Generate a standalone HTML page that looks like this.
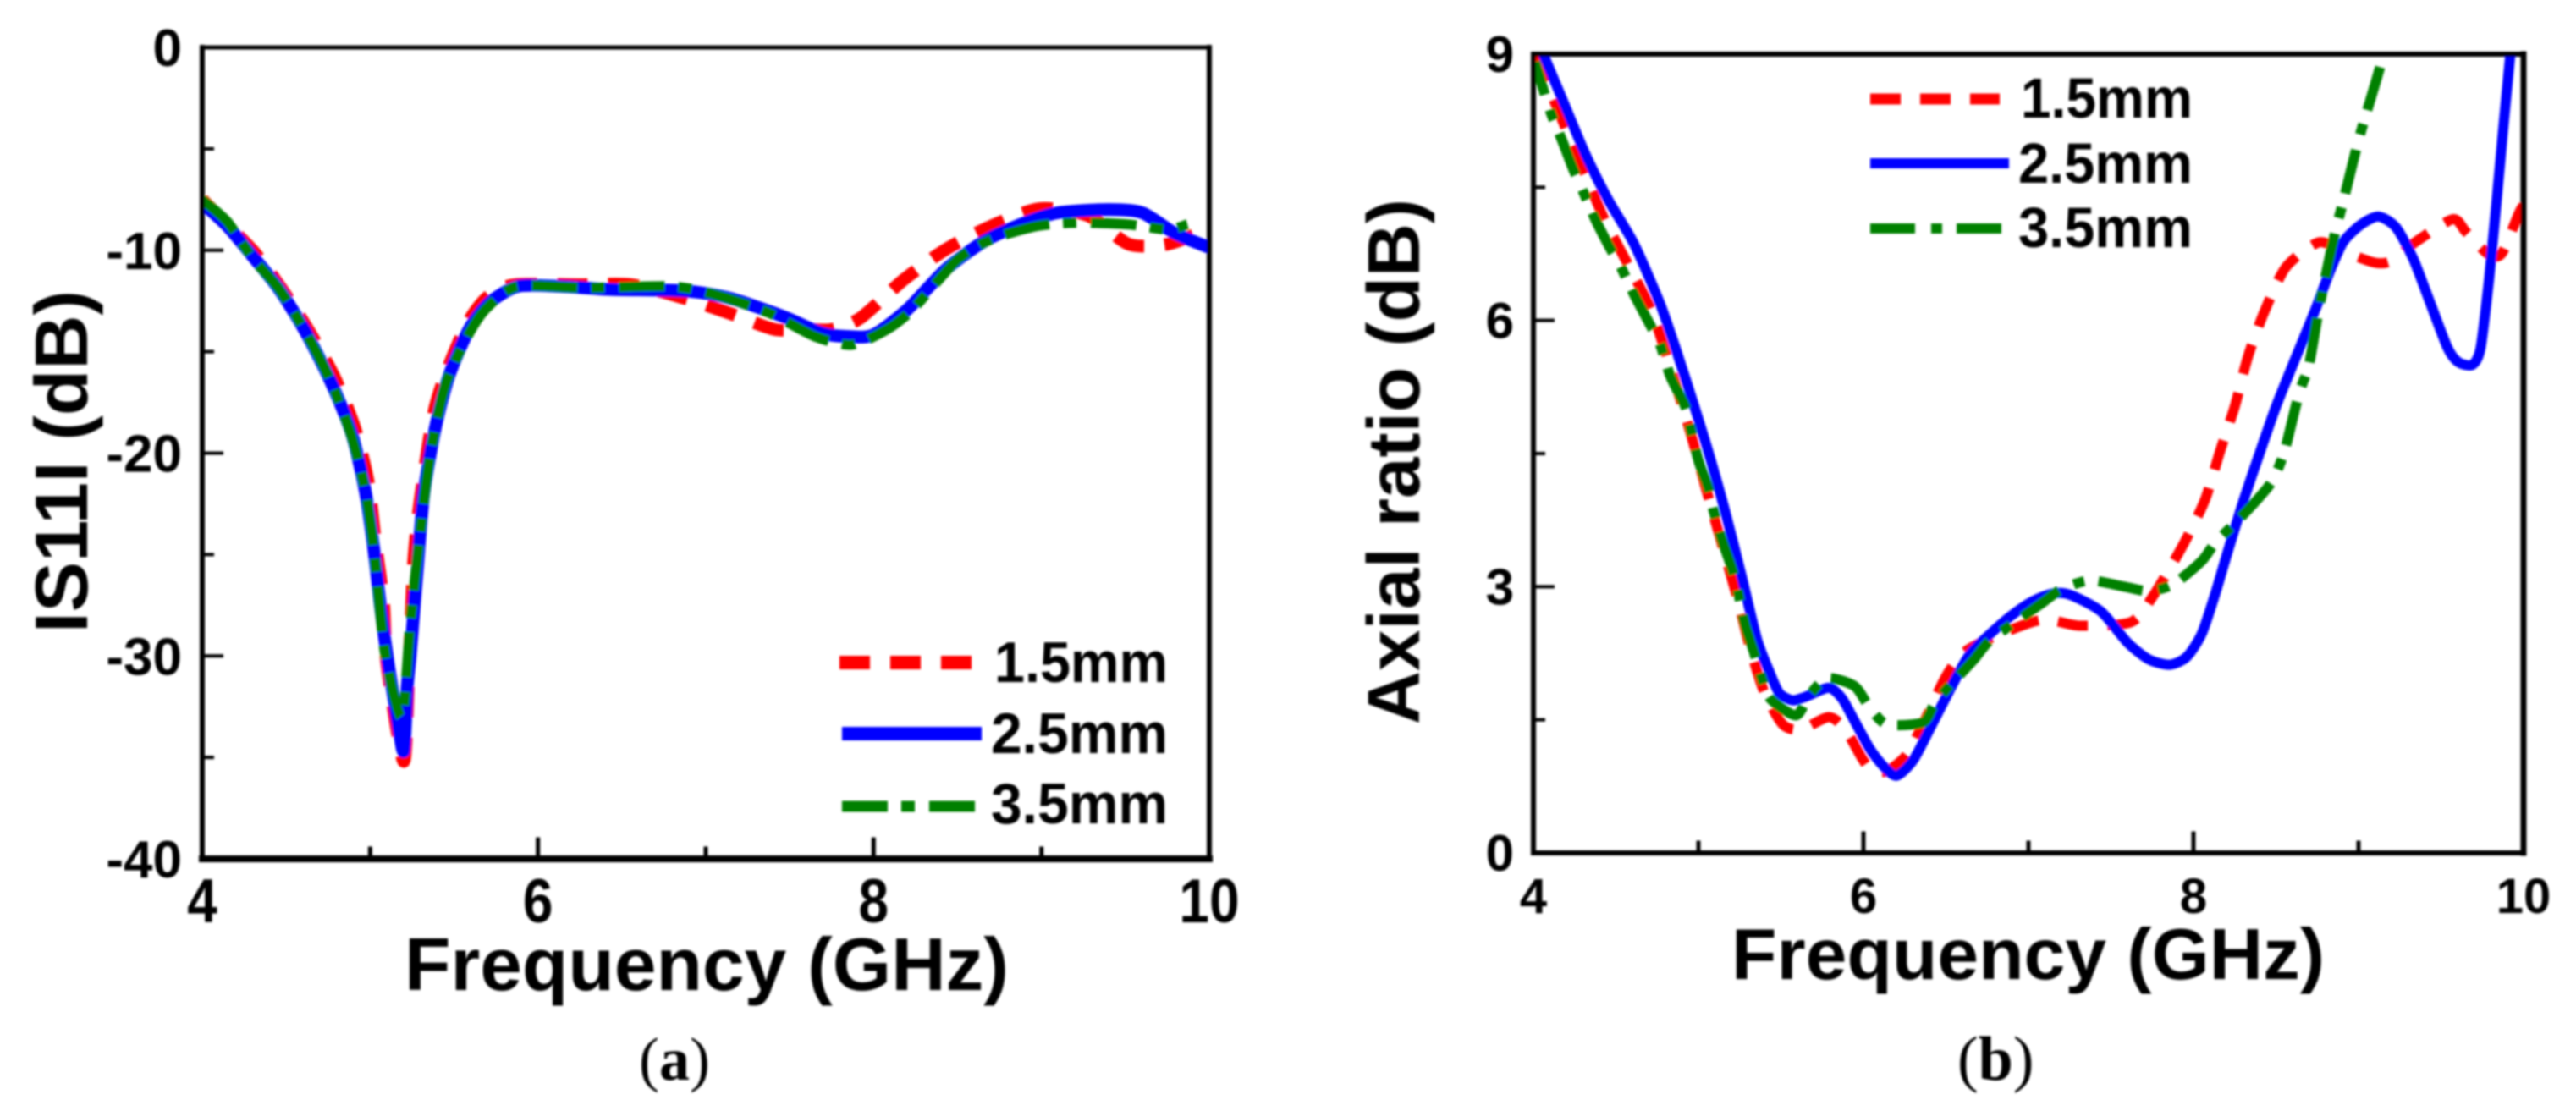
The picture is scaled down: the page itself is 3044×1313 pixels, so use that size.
<!DOCTYPE html>
<html lang="en">
<head>
<meta charset="utf-8">
<title>IS11I and axial ratio versus frequency</title>
<style>
html,body{margin:0;padding:0;background:#fff;width:3044px;height:1313px;overflow:hidden}
svg{display:block}
text{font-family:"Liberation Sans",sans-serif;font-weight:bold;fill:#000}
text.serif{font-family:"Liberation Serif",serif;font-weight:normal}
</style>
</head>
<body>
<svg id="figure" xmlns="http://www.w3.org/2000/svg" width="3044" height="1313" viewBox="0 0 3044 1313">
<defs>
<filter id="soft" x="-2%" y="-2%" width="104%" height="104%"><feGaussianBlur stdDeviation="1.3"/></filter>
<clipPath id="clip-a"><rect x="239" y="56" width="1190" height="959"/></clipPath>
<clipPath id="clip-b"><rect x="1812" y="64" width="1170" height="944"/></clipPath>
</defs>
<g filter="url(#soft)">
<g id="panel-a">
<g id="series-a" clip-path="url(#clip-a)"></g>
<g id="axes-a"></g>
<text x="478" y="1170" font-size="88" textLength="714" lengthAdjust="spacingAndGlyphs">Frequency (GHz)</text>
<text transform="translate(103,748) rotate(-90)" font-size="88" textLength="405" lengthAdjust="spacingAndGlyphs">IS11I (dB)</text>
<g>
<line x1="992" x2="1148" y1="783" y2="783" stroke="#ff0000" stroke-width="16" stroke-dasharray="36 24"/>
<text x="1175" y="806" font-size="68" textLength="205" lengthAdjust="spacingAndGlyphs">1.5mm</text>
<line x1="995" x2="1160" y1="867" y2="867" stroke="#0000ff" stroke-width="16"/>
<text x="1171" y="890" font-size="68" textLength="209" lengthAdjust="spacingAndGlyphs">2.5mm</text>
<line x1="995" x2="1152" y1="953" y2="953" stroke="#008000" stroke-width="13" stroke-dasharray="54 16 16 17"/>
<text x="1171" y="973" font-size="68" textLength="209" lengthAdjust="spacingAndGlyphs">3.5mm</text>
</g>
<text class="serif" x="755" y="1276" font-size="72">(<tspan font-weight="bold">a</tspan>)</text>
</g>
<g id="panel-b">
<g id="series-b" clip-path="url(#clip-b)"></g>
<g id="axes-b"></g>
<text x="2046" y="1157" font-size="85" textLength="701" lengthAdjust="spacingAndGlyphs">Frequency (GHz)</text>
<text transform="translate(1677,856) rotate(-90)" font-size="87" textLength="621" lengthAdjust="spacingAndGlyphs">Axial ratio (dB)</text>
<g>
<line x1="2210" x2="2363" y1="117" y2="117" stroke="#ff0000" stroke-width="13" stroke-dasharray="36 23"/>
<text x="2388" y="139" font-size="67" textLength="203" lengthAdjust="spacingAndGlyphs">1.5mm</text>
<line x1="2210" x2="2374" y1="193" y2="193" stroke="#0000ff" stroke-width="12"/>
<text x="2385" y="216" font-size="67" textLength="206" lengthAdjust="spacingAndGlyphs">2.5mm</text>
<line x1="2210" x2="2367" y1="270" y2="270" stroke="#008000" stroke-width="12" stroke-dasharray="53 19 13 17"/>
<text x="2385" y="292" font-size="67" textLength="206" lengthAdjust="spacingAndGlyphs">3.5mm</text>
</g>
<text class="serif" x="2313" y="1276" font-size="74">(<tspan font-weight="bold">b</tspan>)</text>
</g>
</g>
</svg>
<script>
// Panel (a): |S11| in dB
const freqA15 = [4,4.3,4.46,4.63,4.79,4.91,4.99,5.03,5.08,5.1,5.2,5.23,5.26,5.3,5.38,5.46,5.58,5.7,5.86,6.25,6.56,6.87,7.14,7.41,7.6,7.75,7.92,8.18,8.43,8.7,8.99,9.28,9.52,9.75,9.98];
const valsA15 = [-7.5,-10,-11.75,-13.9,-16.3,-18.8,-21.5,-24.3,-27.4,-30.4,-35.2,-30.7,-25.3,-22.2,-18,-15.9,-13.6,-12.3,-11.7,-11.7,-11.7,-12.36,-13.1,-13.9,-13.9,-13.9,-13.35,-11.45,-9.96,-8.81,-7.95,-8.3,-9.7,-9.7,-9];
const freqA25 = [4,4.15,4.3,4.46,4.62,4.77,4.89,4.97,5.02,5.06,5.1,5.16,5.2,5.22,5.24,5.28,5.32,5.39,5.47,5.59,5.71,5.88,6.13,6.44,6.87,7.14,7.46,7.69,7.85,8,8.2,8.43,8.66,8.9,9.1,9.4,9.6,9.79,9.98,10];
const valsA25 = [-7.66,-8.81,-10.29,-11.94,-14.09,-16.56,-19.03,-21.84,-24.6,-27.45,-29.92,-33,-34.7,-31.6,-29.9,-25.8,-22,-18.7,-16.2,-13.9,-12.6,-11.78,-11.78,-11.94,-12,-12.36,-13.26,-14.09,-14.25,-14.17,-12.93,-10.95,-9.55,-8.65,-8.15,-7.99,-8.15,-9.14,-9.8,-9.8];
const freqA35 = [4,4.15,4.3,4.46,4.63,4.77,4.89,4.97,5.02,5.06,5.1,5.19,5.24,5.3,5.36,5.45,5.59,5.7,5.88,6.29,6.79,7.06,7.38,7.65,7.87,8.08,8.23,8.5,8.7,8.97,9.2,9.52,9.75,9.87];
const valsA35 = [-7.5,-8.6,-10.4,-11.94,-14.25,-16.56,-19.2,-21.84,-24.6,-27.9,-30.4,-33,-28.3,-23.8,-20,-16.6,-14.1,-12.8,-11.78,-11.86,-11.78,-12.2,-13.1,-14.25,-14.66,-13.9,-12.93,-10.46,-9.47,-8.81,-8.65,-8.73,-8.98,-8.73];
const xTicksA = [4,6,8,10];
const xMinorA = [5,7,9];
const yTicksA = [0,-10,-20,-30,-40];
const yMinorA = [-5,-15,-25,-35];

// Panel (b): axial ratio in dB
const freqB15 = [4,4.03,4.19,4.3,4.43,4.57,4.71,4.81,4.96,5.06,5.23,5.3,5.395,5.51,5.62,5.79,5.89,5.99,6.05,6.14,6.26,6.36,6.51,6.65,7.06,7.31,7.62,7.75,7.94,8.07,8.16,8.25,8.33,8.43,8.56,8.76,8.93,9.1,9.2,9.35,9.57,9.65,9.79,9.87,9.97,10];
const valsB15 = [9,8.9,8.19,7.71,7.14,6.64,6.13,5.59,4.68,4.01,2.91,2.4,1.83,1.45,1.39,1.53,1.39,1.07,0.93,0.92,1.1,1.45,2.02,2.31,2.62,2.56,2.6,2.88,3.48,3.98,4.52,5.03,5.59,6.1,6.6,6.88,6.76,6.65,6.67,6.89,7.14,7,6.74,6.76,7.2,7.3];
const freqB25 = [4.06,4.18,4.316,4.453,4.61,4.767,4.866,4.96,5.06,5.16,5.26,5.356,5.435,5.49,5.57,5.65,5.79,5.87,5.945,6.04,6.12,6.2,6.3,6.4,6.53,6.65,6.86,7.01,7.14,7.25,7.44,7.6,7.73,7.857,7.96,8.05,8.13,8.21,8.3,8.4,8.5,8.615,8.74,8.83,8.91,9.015,9.12,9.226,9.33,9.436,9.54,9.605,9.69,9.74,9.79,9.836,9.88,9.92];
const valsB25 = [9,8.47,7.87,7.36,6.86,6.19,5.66,5.12,4.52,3.86,3.13,2.4,2.02,1.8,1.72,1.76,1.86,1.74,1.49,1.17,0.98,0.87,1.04,1.39,1.86,2.25,2.62,2.82,2.92,2.91,2.72,2.37,2.18,2.12,2.21,2.47,2.91,3.41,3.95,4.5,5.03,5.56,6.13,6.57,6.89,7.08,7.17,7.05,6.7,6.19,5.69,5.53,5.5,5.69,6.45,7.33,8.22,9];
const freqB35 = [4.01,4.1,4.18,4.24,4.3,4.375,4.46,4.53,4.61,4.71,4.77,4.83,4.92,4.95,5,5.06,5.09,5.14,5.2,5.24,5.28,5.34,5.38,5.435,5.59,5.67,5.78,5.945,6.03,6.14,6.36,6.43,6.53,6.67,6.77,7.01,7.1,7.2,7.37,7.58,7.73,7.88,8.05,8.13,8.26,8.4,8.48,8.55,8.64,8.7,8.76,8.83,8.87,8.91,9,9.1,9.15];
const valsB35 = [8.91,8.37,8,7.71,7.46,7.14,6.83,6.6,6.29,5.94,5.72,5.37,5.03,4.8,4.42,4.11,3.87,3.54,3.22,2.94,2.59,2.24,1.99,1.74,1.55,1.77,1.97,1.88,1.66,1.45,1.47,1.68,1.9,2.18,2.4,2.72,2.84,2.97,3.07,3,2.95,3.03,3.29,3.49,3.73,4.01,4.2,4.52,5.18,5.5,6.13,6.76,7.08,7.36,8.03,8.66,8.98];
const xTicksB = [4,6,8,10];
const xMinorB = [5,7,9];
const yTicksB = [0,3,6,9];
const yMinorB = [1.5,4.5,7.5];

const SVG_NS = 'http://www.w3.org/2000/svg';

function makeScale(d0, d1, r0, r1) {
  return function (v) { return r0 + (v - d0) * (r1 - r0) / (d1 - d0); };
}
const xA = makeScale(4, 10, 239, 1429);
const yA = makeScale(0, -40, 56, 1015);
const xB = makeScale(4, 10, 1812, 2982);
const yB = makeScale(0, 9, 1008, 64);

function smoothPath(fs, vs, sx, sy) {
  const p = fs.map(function (f, i) { return [sx(f), sy(vs[i])]; });
  let d = 'M' + p[0][0].toFixed(1) + ' ' + p[0][1].toFixed(1);
  for (let i = 0; i < p.length - 1; i++) {
    const a = p[Math.max(i - 1, 0)], b = p[i], c = p[i + 1], e = p[Math.min(i + 2, p.length - 1)];
    const c1x = b[0] + (c[0] - a[0]) / 8, c1y = b[1] + (c[1] - a[1]) / 8;
    const c2x = c[0] - (e[0] - b[0]) / 8, c2y = c[1] - (e[1] - b[1]) / 8;
    d += 'C' + c1x.toFixed(1) + ' ' + c1y.toFixed(1) + ' ' + c2x.toFixed(1) + ' ' + c2y.toFixed(1) + ' ' + c[0].toFixed(1) + ' ' + c[1].toFixed(1);
  }
  return d;
}

function drawSeries(parent, name, fs, vs, sx, sy, color, width, dash, offset) {
  const el = document.createElementNS(SVG_NS, 'path');
  
  
  el.setAttribute('d', smoothPath(fs, vs, sx, sy));
  el.setAttribute('fill', 'none');
  el.setAttribute('stroke', color);
  el.setAttribute('stroke-width', width);
  el.setAttribute('stroke-linejoin', 'round');
  if (dash) el.setAttribute('stroke-dasharray', dash);
  if (offset) el.setAttribute('stroke-dashoffset', offset);
  parent.appendChild(el);
}

function drawLine(parent, name, x1, y1, x2, y2, w) {
  const el = document.createElementNS(SVG_NS, 'line');
  
  
  el.setAttribute('x1', x1);
  el.setAttribute('y1', y1);
  el.setAttribute('x2', x2);
  el.setAttribute('y2', y2);
  el.setAttribute('stroke', '#000');
  el.setAttribute('stroke-width', w);
  el.setAttribute('stroke-linecap', 'square');
  parent.appendChild(el);
}

function drawLabel(parent, name, str, x, y, size, anchor, sy) {
  const el = document.createElementNS(SVG_NS, 'text');
  
  
  el.setAttribute('transform', 'translate(' + x + ',' + y + ') scale(1,' + sy + ')');
  el.setAttribute('font-size', size);
  el.setAttribute('text-anchor', anchor);
  el.textContent = str;
  parent.appendChild(el);
}

function drawAxes(parent, opts) {
  const L = opts.sx(4), R = opts.sx(10), T = opts.top, B = opts.bottom;
  opts.xTicks.forEach(function (t) {
    drawLine(parent, 'x-major-tick', opts.sx(t), B, opts.sx(t), B - 23, 5);
    drawLabel(parent, 'x-tick-label', String(t), opts.sx(t), opts.xLabelY, opts.xFont, 'middle', opts.xScaleY);
  });
  opts.xMinor.forEach(function (t) {
    drawLine(parent, 'x-minor-tick', opts.sx(t), B, opts.sx(t), B - 12, 5);
  });
  opts.yTicks.forEach(function (t) {
    drawLine(parent, 'y-major-tick', L, opts.sy(t), L + 23, opts.sy(t), 4);
    drawLabel(parent, 'y-tick-label', String(t), opts.yLabelX, opts.sy(t) + opts.yLabelDy, opts.yFont, 'end', 1);
  });
  opts.yMinor.forEach(function (t) {
    drawLine(parent, 'y-minor-tick', L, opts.sy(t), L + 12, opts.sy(t), 4);
  });
  drawLine(parent, 'plot-top-spine', L, T, R, T, opts.topW);
  drawLine(parent, 'plot-left-spine', L, T, L, B, opts.leftW);
  drawLine(parent, 'plot-right-spine', R, T, R, B, opts.rightW);
  drawLine(parent, 'plot-bottom-spine', L, B, R, B, opts.bottomW);
}

const seriesA = document.getElementById('series-a');
const seriesB = document.getElementById('series-b');
drawSeries(seriesA, 'series-a-1-5mm', freqA15, valsA15, xA, yA, '#ff0000', 15, '36 24', 0);
drawSeries(seriesA, 'series-a-2-5mm', freqA25, valsA25, xA, yA, '#0000ff', 15, null, 0);
drawSeries(seriesA, 'series-a-3-5mm', freqA35, valsA35, xA, yA, '#008000', 12, '54 16 16 17', 0);
drawSeries(seriesB, 'series-b-1-5mm', freqB15, valsB15, xB, yB, '#ff0000', 12, '36 23', 0);
drawSeries(seriesB, 'series-b-2-5mm', freqB25, valsB25, xB, yB, '#0000ff', 12, null, 0);
drawSeries(seriesB, 'series-b-3-5mm', freqB35, valsB35, xB, yB, '#008000', 12, '53 19 13 17', 13);

drawAxes(document.getElementById('axes-a'), {
  sx: xA, sy: yA, top: 56, bottom: 1015,
  xTicks: xTicksA, xMinor: xMinorA, yTicks: yTicksA, yMinor: yMinorA,
  xLabelY: 1090, xFont: 64, xScaleY: 1.15, yLabelX: 215, yLabelDy: 22, yFont: 62,
  topW: 5, leftW: 6, rightW: 6, bottomW: 8
});
drawAxes(document.getElementById('axes-b'), {
  sx: xB, sy: yB, top: 64, bottom: 1008,
  xTicks: xTicksB, xMinor: xMinorB, yTicks: yTicksB, yMinor: yMinorB,
  xLabelY: 1079, xFont: 58, xScaleY: 1, yLabelX: 1789, yLabelDy: 21, yFont: 60,
  topW: 6, leftW: 6, rightW: 7, bottomW: 6
});
</script>
</body>
</html>
